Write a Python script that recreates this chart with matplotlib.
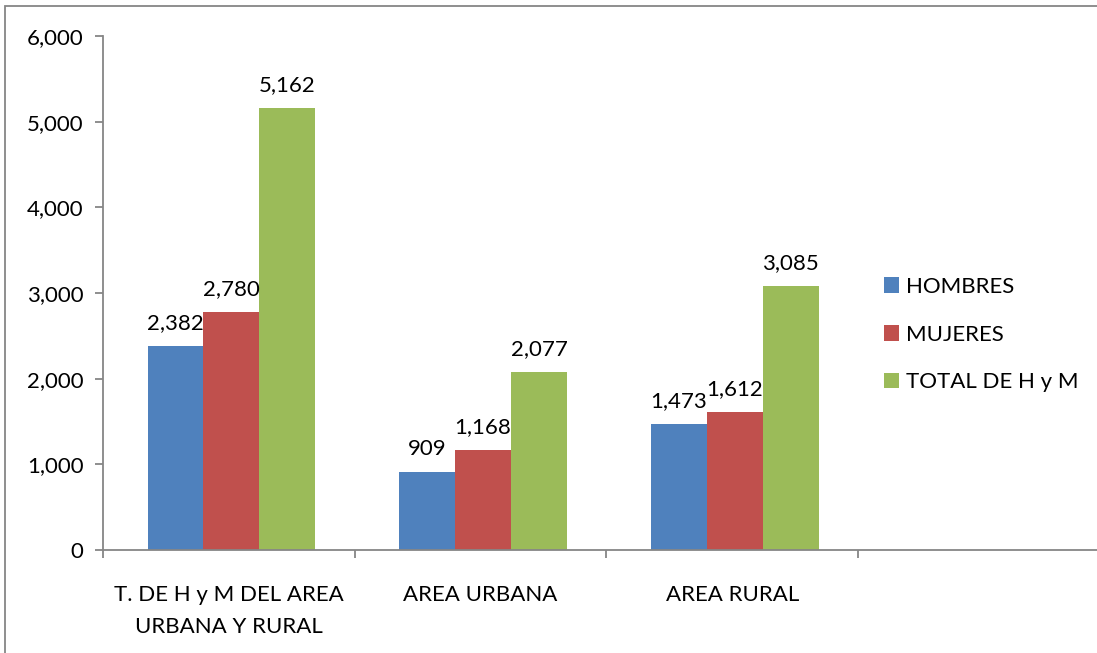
import numpy as np
import matplotlib.pyplot as plt
from matplotlib.patches import Rectangle

# Data
categorias = ["T. DE H y M DEL AREA\nURBANA Y RURAL", "AREA URBANA", "AREA RURAL"]
hombres = [2382, 909, 1473]
mujeres = [2780, 1168, 1612]
total = [5162, 2077, 3085]
series = ["HOMBRES", "MUJERES", "TOTAL DE H y M"]
colores = ["#4f81bd", "#c0504d", "#9bbb59"]

plt.rcParams["font.family"] = ["Lato", "DejaVu Sans"]
fs = 16

fig = plt.figure(figsize=(10.97, 6.53), dpi=100)
ax = fig.add_axes([103 / 1097, 1 - 550 / 653, 4 * 251.7 / 1097, (550 - 36) / 653])

# outer chart border
fig.patches.append(Rectangle((5 / 1097, -0.1), 1.2, 1 - 5.5 / 653 + 0.1,
                             transform=fig.transFigure, fill=False,
                             edgecolor="#868686", linewidth=1.3))

x = np.arange(len(categorias))
w = 0.222
for i, (vals, nombre, c) in enumerate(zip([hombres, mujeres, total], series, colores)):
    pos = x + (i - 1) * w + 0.01
    bars = ax.bar(pos, vals, width=w, color=c, label=nombre)
    for b, v in zip(bars, vals):
        ax.text(b.get_x() + b.get_width() / 2, v + 150, f"{v:,}",
                ha="center", va="bottom", fontsize=fs)

ax.set_xlim(-0.5, 3.5)
ax.set_ylim(0, 6000)
ax.set_yticks(range(0, 6001, 1000))
ax.set_yticklabels([f"{v:,}" for v in range(0, 6001, 1000)], fontsize=fs)

ax.set_xticks(x)
ax.set_xticklabels(categorias, fontsize=fs, linespacing=1.75)
ax.set_xticks(np.arange(-0.5, 3.6, 1), minor=True)
ax.tick_params(axis="x", which="major", length=0, pad=25)
ax.tick_params(axis="x", which="minor", length=6, color="#868686", width=1.3)
ax.tick_params(axis="y", length=6, color="#868686", width=1.3, pad=8)

for s in ["top", "right"]:
    ax.spines[s].set_visible(False)
for s in ["left", "bottom"]:
    ax.spines[s].set_color("#868686")
    ax.spines[s].set_linewidth(1.3)

fig.legend(loc="upper left", bbox_to_anchor=(875 / 1097, 1 - 268 / 653),
           frameon=False, fontsize=fs, handlelength=0.7, handleheight=0.7,
           handletextpad=0.3, labelspacing=1.25, borderaxespad=0)

fig.savefig("out.png", dpi=100)
